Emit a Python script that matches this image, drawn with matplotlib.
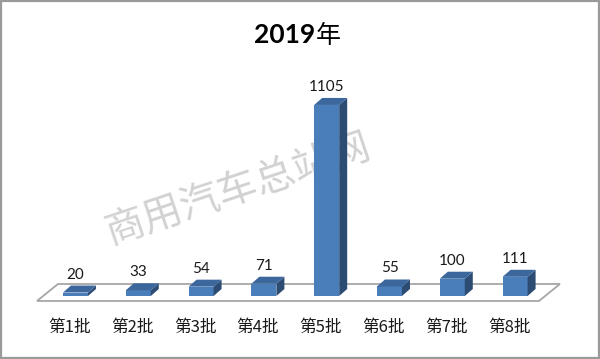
import matplotlib
matplotlib.use("Agg")
import matplotlib.pyplot as plt
from matplotlib.patches import Polygon, Rectangle

categories = ["第1批", "第2批", "第3批", "第4批", "第5批", "第6批", "第7批", "第8批"]
values = [20, 33, 54, 71, 1105, 55, 100, 111]
title_num = "2019"
title_cjk = "年"
watermark = "商用汽车总站网"

FRONT = "#4A7EBB"
TOP = "#3B679D"
SIDE = "#2C4C74"

fig = plt.figure(figsize=(6.0, 3.59), dpi=100)
ax = fig.add_axes([0, 0, 1, 1])
ax.set_xlim(-1.202, 8.352)
ax.set_ylim(-364.4, 1712)
ax.axis("off")

# convert pixel offsets to data offsets
px_x = (8.352 + 1.202) / 600.0
px_y = (1712 + 364.4) / 359.0
dx, dy = 8 * px_x, 7 * px_y
w = 0.398
n = len(values)

# floor
fdx, fdy = 21 * px_x, 17 * px_y
f0 = -5 * px_y
fl, fr = -0.613, n - 1 + 0.38
floor = Polygon([(fl, f0), (fr, f0), (fr + fdx, f0 + fdy), (fl + fdx, f0 + fdy)],
                closed=True, facecolor="white", edgecolor="#A6A6A6", lw=1.3, zorder=1)
ax.add_patch(floor)

# watermark
ax.text(239 * px_x - 1.202, 1712 - 190 * px_y, watermark,
        fontsize=28.5, color="#D2D2D2", rotation=18.5, ha="center", va="center",
        family=["Noto Sans CJK SC"], fontweight="light", zorder=2)

for i, v in enumerate(values):
    ax.bar(i, v, width=w, bottom=0, color=FRONT, zorder=3, linewidth=0)
    side = Polygon([(i + w / 2, 0), (i + w / 2 + dx, dy), (i + w / 2 + dx, v + dy), (i + w / 2, v)],
                   closed=True, facecolor=SIDE, edgecolor="none", zorder=3)
    top = Polygon([(i - w / 2, v), (i - w / 2 + dx, v + dy), (i + w / 2 + dx, v + dy), (i + w / 2, v)],
                  closed=True, facecolor=TOP, edgecolor="none", zorder=3)
    ax.add_patch(side)
    ax.add_patch(top)
    ax.annotate(str(v), (i, v + dy), xytext=(0, 4), textcoords="offset pixels",
                ha="center", va="bottom", fontsize=11, family=["Lato", "DejaVu Sans"],
                color="#1A1A1A", zorder=4)
    ax.annotate(categories[i], (i, 0), xytext=(-6, -31), textcoords="offset pixels",
                ha="center", va="center", fontsize=12,
                family=["Noto Sans CJK SC", "DejaVu Sans"], color="#1A1A1A")

fig.text(315 / 600, 1 - 43 / 359, title_num, ha="right", va="baseline",
         fontsize=19, fontweight="bold", family=["Lato", "DejaVu Sans"], color="black")
fig.text(316 / 600, 1 - 43 / 359, title_cjk, ha="left", va="baseline",
         fontsize=18, family=["Noto Sans CJK SC"], color="black")

fig.patches.append(Rectangle((0.0015, 0.0025), 0.997, 0.995, transform=fig.transFigure,
                             fill=False, edgecolor="#9A9A9A", lw=1.6))

fig.savefig("out.png", dpi=100)
